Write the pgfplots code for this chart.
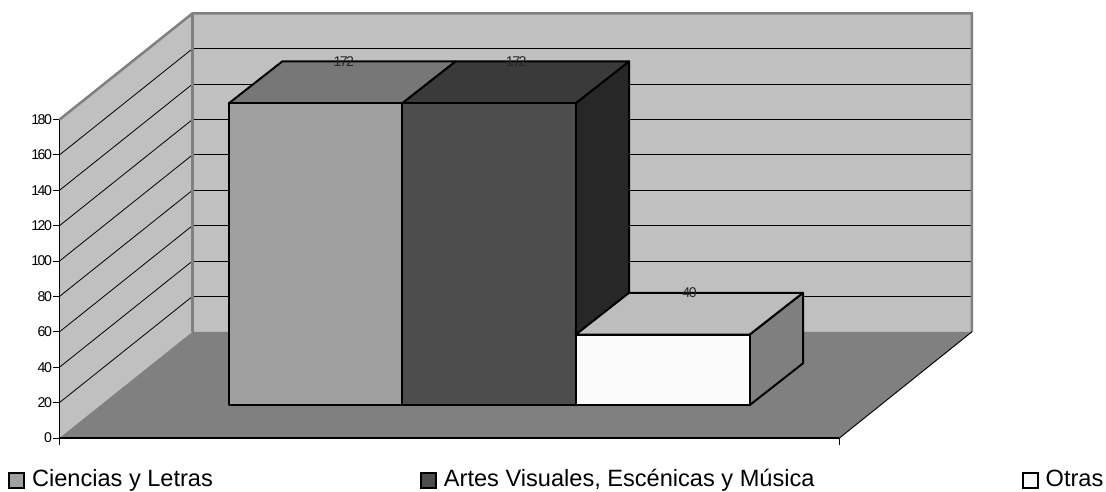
\documentclass[border=0pt]{standalone}
\usepackage{fontspec}
\setmainfont{Liberation Sans}
\newfontfamily\tickfont[LetterSpace=-11]{Liberation Sans}
\usepackage{pgfplots}
\pgfplotsset{compat=1.18}
\definecolor{wall}{HTML}{C0C0C0}
\definecolor{walledge}{HTML}{808080}
\definecolor{floorc}{HTML}{808080}
\definecolor{aFront}{HTML}{A0A0A0}
\definecolor{aTop}{HTML}{777777}
\definecolor{bFront}{HTML}{4D4D4D}
\definecolor{bTop}{HTML}{3A3A3A}
\definecolor{bSide}{HTML}{272727}
\definecolor{cFront}{HTML}{FBFBFB}
\definecolor{cTop}{HTML}{BDBDBD}
\definecolor{cSide}{HTML}{7F7F7F}
\begin{document}
\begin{tikzpicture}
\begin{axis}[
  scale only axis,
  width=585.375pt, height=238.95pt,
  xmin=59.5, xmax=840, ymin=0, ymax=180,
  clip=false,
  axis on top,
  axis lines=left,
  axis line style={-,black,line width=0.9pt},
  xtick={59.5,840}, xticklabels={,},
  ytick={0,20,40,60,80,100,120,140,160,180},
  tick align=outside,
  major tick length=5pt,
  tick style={black,line width=0.7pt},
  /pgf/number format/assume math mode=true,
  yticklabel style={font=\tickfont\fontsize{10.6}{12}\selectfont,inner sep=0.5pt},
  legend columns=3,
  legend cell align=left,
  legend style={draw=none,fill=none,inner sep=0pt,at={(axis cs:8,-23.2)},anchor=west,font=\fontsize{17.7}{20}\selectfont},
]
\addplot[draw=none,fill=white,forget plot] coordinates {(0,-29.77)(1106,-29.77)(1106,247.6)(0,247.6)} --cycle;
\addplot[draw=none,fill=wall,forget plot] coordinates {(59.5,0)(192.5,60)(192.5,240)(59.5,180)} --cycle;
\addplot[draw=none,fill=wall,forget plot] coordinates {(192.5,60)(972.5,60)(972.5,240)(192.5,240)} --cycle;
\addplot[black,line width=0.75pt,forget plot] coordinates {(192.5,80)(972.5,80)};
\addplot[black,line width=0.75pt,forget plot] coordinates {(192.5,100)(972.5,100)};
\addplot[black,line width=0.75pt,forget plot] coordinates {(192.5,120)(972.5,120)};
\addplot[black,line width=0.75pt,forget plot] coordinates {(192.5,140)(972.5,140)};
\addplot[black,line width=0.75pt,forget plot] coordinates {(192.5,160)(972.5,160)};
\addplot[black,line width=0.75pt,forget plot] coordinates {(192.5,180)(972.5,180)};
\addplot[black,line width=0.75pt,forget plot] coordinates {(192.5,200)(972.5,200)};
\addplot[black,line width=0.75pt,forget plot] coordinates {(192.5,220)(972.5,220)};
\addplot[black,line width=0.6pt,forget plot] coordinates {(59.5,20)(192.5,80)};
\addplot[black,line width=0.6pt,forget plot] coordinates {(59.5,40)(192.5,100)};
\addplot[black,line width=0.6pt,forget plot] coordinates {(59.5,60)(192.5,120)};
\addplot[black,line width=0.6pt,forget plot] coordinates {(59.5,80)(192.5,140)};
\addplot[black,line width=0.6pt,forget plot] coordinates {(59.5,100)(192.5,160)};
\addplot[black,line width=0.6pt,forget plot] coordinates {(59.5,120)(192.5,180)};
\addplot[black,line width=0.6pt,forget plot] coordinates {(59.5,140)(192.5,200)};
\addplot[black,line width=0.6pt,forget plot] coordinates {(59.5,160)(192.5,220)};
\addplot[walledge,line width=1.9pt,forget plot] coordinates {(59.5,180)(192.5,240)(972.5,240)(972.5,60)};
\addplot[walledge,line width=1.9pt,forget plot] coordinates {(192.5,60)(192.5,240)};
\addplot[draw=none,fill=floorc,forget plot] coordinates {(59.5,0)(840,0)(972.5,60)(192.5,60)} --cycle;
\addplot[black,line width=0.7pt,forget plot] coordinates {(840,0)(972.5,60)};
\addplot[fill=aTop,draw=black,line width=1.5pt,line join=round,forget plot] coordinates {(229,189.2)(402.5,189.2)(456,212.9)(282.5,212.9)} --cycle;
\addplot[fill=aFront,draw=black,line width=1.5pt,line join=round,forget plot] coordinates {(229,18.5)(402.5,18.5)(402.5,189.2)(229,189.2)} --cycle;
\addplot[fill=bSide,draw=black,line width=1.5pt,line join=round,forget plot] coordinates {(576,18.5)(576,189.2)(629.5,212.9)(629.5,42.2)} --cycle;
\addplot[fill=bTop,draw=black,line width=1.5pt,line join=round,forget plot] coordinates {(402.5,189.2)(576,189.2)(629.5,212.9)(456,212.9)} --cycle;
\addplot[fill=bFront,draw=black,line width=1.5pt,line join=round,forget plot] coordinates {(402.5,18.5)(576,18.5)(576,189.2)(402.5,189.2)} --cycle;
\addplot[fill=cSide,draw=black,line width=1.5pt,line join=round,forget plot] coordinates {(750,18.5)(750,58.4)(803.5,82.1)(803.5,42.2)} --cycle;
\addplot[fill=cTop,draw=black,line width=1.5pt,line join=round,forget plot] coordinates {(576,58.4)(750,58.4)(803.5,82.1)(629.5,82.1)} --cycle;
\addplot[fill=cFront,draw=black,line width=1.5pt,line join=round,forget plot] coordinates {(576,18.5)(750,18.5)(750,58.4)(576,58.4)} --cycle;
\addplot[draw=none,forget plot,point meta=explicit symbolic,nodes near coords,
  nodes near coords style={anchor=center,inner sep=0pt,font=\tickfont\fontsize{10.6}{12}\selectfont,text=black!85}]
  coordinates {(344,212.6)[172] (516.5,212.6)[172] (690,82.1)[40]};
\addlegendimage{legend image code/.code={\draw[black,fill=aFront,line width=1.3pt] (0pt,-7pt) rectangle (11.4pt,4.4pt); \path (15pt,0pt);}}
\addlegendentry{\makebox[289.3pt][l]{Ciencias y Letras}}
\addlegendimage{legend image code/.code={\draw[black,fill=bFront,line width=1.3pt] (0pt,-7pt) rectangle (11.4pt,4.4pt); \path (15pt,0pt);}}
\addlegendentry{\makebox[431.7pt][l]{Artes Visuales, Escénicas y Música}}
\addlegendimage{legend image code/.code={\draw[black,fill=cFront,line width=1.3pt] (0pt,-7pt) rectangle (11.4pt,4.4pt); \path (15pt,0pt);}}
\addlegendentry{Otras\hspace{-7pt}}
\end{axis}
\end{tikzpicture}
\end{document}
